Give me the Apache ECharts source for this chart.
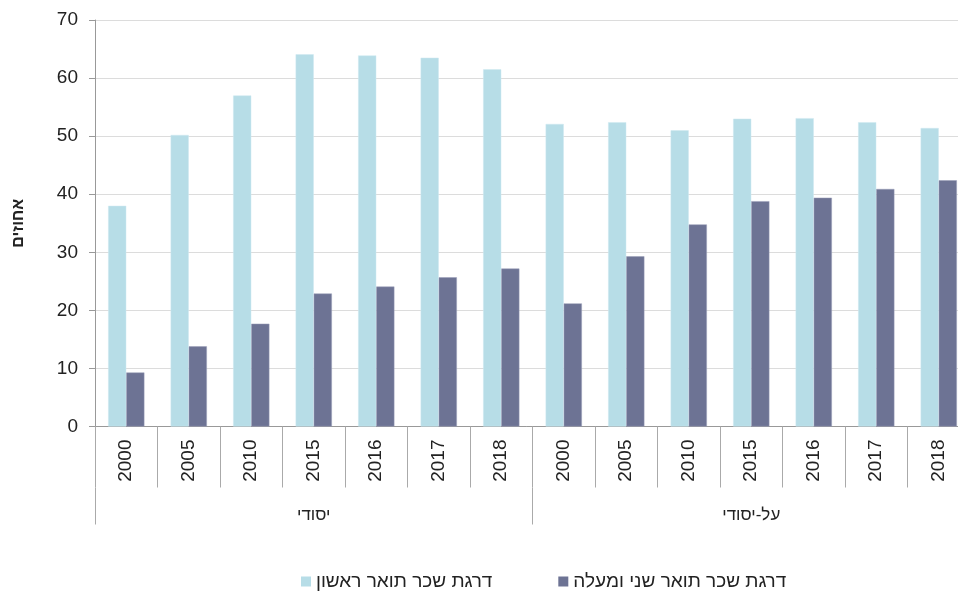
<!DOCTYPE html>
<html><head><meta charset="utf-8">
<script src="https://cdn.jsdelivr.net/npm/echarts@6/dist/echarts.min.js"></script>
<style>html,body{margin:0;padding:0;background:#fff}#c{width:958px;height:596px}</style>
</head><body><div id="c"></div>
<script>
const years = ['2000','2005','2010','2015','2016','2017','2018','2000','2005','2010','2015','2016','2017','2018'];
const groups = ['יסודי','על-יסודי'];
const firstDegree = [38.0,50.2,57.0,64.1,63.9,63.5,61.5, 52.1,52.4,51.0,53.0,53.1,52.4,51.4];
const secondDegree = [9.3,13.8,17.7,22.9,24.1,25.7,27.2, 21.2,29.3,34.8,38.8,39.4,40.9,42.4];
const seriesNames = ['דרגת שכר תואר ראשון','דרגת שכר תואר שני ומעלה'];
const yName = 'אחוזים';

const font = 'Liberation Sans, Arial, sans-serif';
const chart = echarts.init(document.getElementById('c'));
chart.setOption({
  animation:false,
  textStyle:{fontFamily:font},
  grid:{left:95, top:20, width:875, height:406.5, outerBoundsMode:'none', containLabel:false},
  legend:{
    bottom:0, left:296, itemGap:66, itemWidth:10, itemHeight:10, icon:'rect',
    itemStyle:{borderWidth:0},
    textStyle:{fontSize:19, color:'#222', fontFamily:font},
    data:seriesNames
  },
  xAxis:[{
    type:'category', data:years,
    axisLine:{lineStyle:{color:'#999'}},
    axisTick:{show:true, length:61, interval:0, alignWithLabel:false, lineStyle:{color:'#aaa'}},
    axisLabel:{rotate:90, interval:0, fontSize:19, color:'#222', margin:13}
  },{
    type:'category', data:groups, position:'bottom', offset:61,
    axisLine:{show:false},
    axisTick:{show:true, length:37, interval:0, lineStyle:{color:'#aaa'}},
    axisLabel:{fontSize:17, color:'#222', margin:19}
  }],
  yAxis:{
    type:'value', min:0, max:70, interval:10,
    name:yName, nameLocation:'middle', nameGap:68,
    nameTextStyle:{fontSize:16, fontWeight:'bold', color:'#222'},
    axisLine:{show:true, lineStyle:{color:'#999'}},
    axisTick:{show:true, length:6, lineStyle:{color:'#999'}},
    axisLabel:{fontSize:19, color:'#222', margin:17},
    splitLine:{lineStyle:{color:'#dcdcdc'}}
  },
  series:[
    {name:seriesNames[0], type:'bar', data:firstDegree, barGap:'0%', barCategoryGap:'42%',
     itemStyle:{color:'#b7dde7', borderColor:'#cfe9f0', borderWidth:0.5}},
    {name:seriesNames[1], type:'bar', data:secondDegree, barGap:'0%', barCategoryGap:'42%',
     itemStyle:{color:'#6d7394', borderColor:'#9a9fb8', borderWidth:0.5}}
  ]
});
</script></body></html>
